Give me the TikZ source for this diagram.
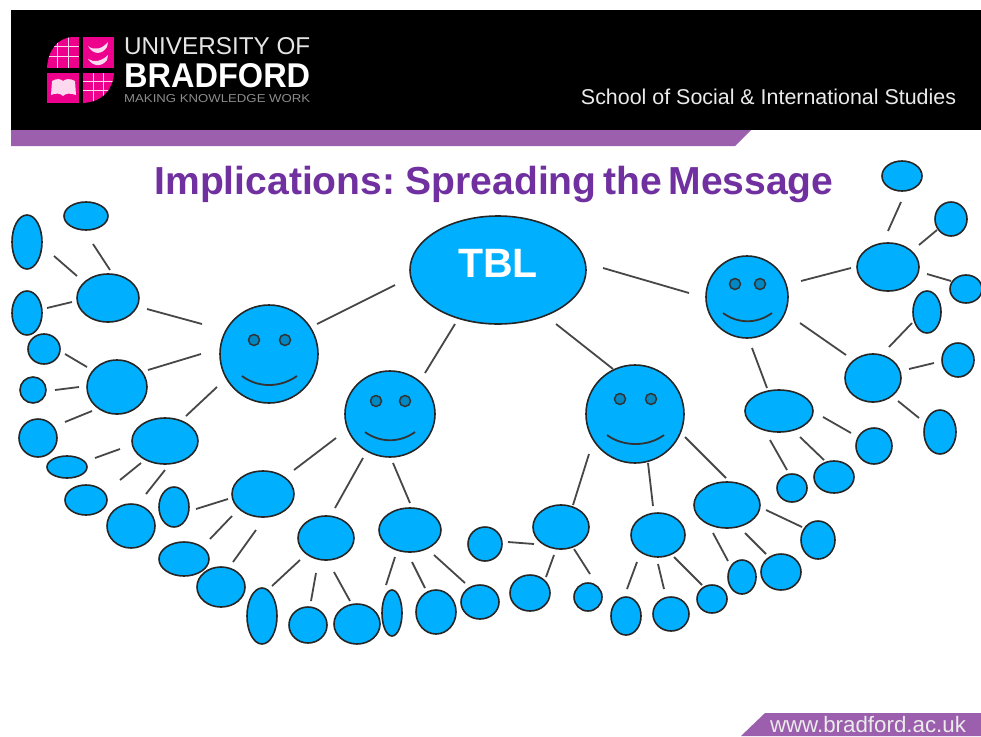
\documentclass[tikz,border=0pt]{standalone}
\usepackage{graphicx}
\usepackage{fontspec}
\setmainfont{Liberation Sans}
\usetikzlibrary{shapes.geometric}
\definecolor{blobblue}{HTML}{00B0FF}
\definecolor{eyeblue}{HTML}{0088C4}
\definecolor{barpurple}{HTML}{9B5FAE}
\definecolor{titlepurple}{HTML}{7030A0}
\definecolor{logopink}{HTML}{EC008C}
\tikzset{
  blob/.style={ellipse,draw=black!85,line width=1.6pt,fill=blobblue,inner sep=0pt},
  link/.style={draw=black!72,line width=1.8pt},
  faceline/.style={draw=black!80,line width=1.8pt},
  eye/.style={circle,draw=black!80,line width=1.5pt,fill=eyeblue,inner sep=0pt,minimum size=11pt},
  grid/.style={draw=white!85!logopink,line width=.5pt}
}
\newcommand\nd[5]{%
  \expandafter\def\csname cx#1\endcsname{#2}%
  \expandafter\def\csname cy#1\endcsname{#3}%
  \node[blob,minimum width={#4*2pt},minimum height={#5*2pt}] (#1) at (#2,#3) {};}
\newcommand\lk[6]{%
  \draw[link] ([shift={(#3-\csname cx#1\endcsname,#4-\csname cy#1\endcsname)}]#1.center)
    -- ([shift={(#5-\csname cx#2\endcsname,#6-\csname cy#2\endcsname)}]#2.center);}
\begin{document}
\begin{tikzpicture}[x=1pt,y=-1pt]
\useasboundingbox (0,0) rectangle (981,736);
\fill[white] (0,0) rectangle (981,736);
% header
\fill[black] (11,10) rectangle (981,130);
\fill[barpurple] (11,130) -- (751,130) -- (735,146) -- (11,146) -- cycle;
\fill[barpurple] (765,713) -- (981,713) -- (981,736) -- (741,736) -- cycle;
% logo
\begin{scope}
\clip (79,37) -- (72,37) .. controls (58,38) and (48,50) .. (47,68) -- (79,68) -- cycle;
\fill[logopink] (47,37) rectangle (79,68);
\foreach \v in {46,56} \draw[grid] (47,\v) -- (79,\v);
\foreach \v in {57,68} \draw[grid] (\v,37) -- (\v,68);
\end{scope}
\fill[logopink] (83,37) rectangle (114,68);
\fill[white!85!logopink] (88,46) .. controls (94,51) and (102,49) .. (108,42) -- (107,47) .. controls (102,55) and (93,55) .. (88,46) -- cycle;
\fill[white!85!logopink] (88,59) .. controls (94,63) and (102,61) .. (108,55) -- (107,60) .. controls (102,67) and (93,67) .. (88,59) -- cycle;
\fill[logopink] (47,73) rectangle (79,103);
\fill[white!85!logopink] (52,81) .. controls (57,78) and (61,79) .. (63,81) .. controls (65,79) and (70,78) .. (75,81) -- (76,95) .. controls (70,93) and (66,93) .. (63,96) .. controls (60,93) and (56,93) .. (51,95) -- cycle;
\begin{scope}
\clip (83,73) -- (114,73) .. controls (113,90) and (102,102) .. (83,103) -- cycle;
\fill[logopink] (83,73) rectangle (114,103);
\foreach \v in {81,90} \draw[grid] (83,\v) -- (114,\v);
\foreach \v in {93,103} \draw[grid] (\v,73) -- (\v,103);
\end{scope}
\node[inner sep=0pt,text=white!90!black,anchor=west] (logoa) at (124,46) {\resizebox{186pt}{17pt}{UNIVERSITY OF}};
\node[inner sep=0pt,text=white,anchor=west] (logob) at (124,75.5) {\resizebox{186pt}{24pt}{\bfseries BRADFORD}};
\node[inner sep=0pt,text=black!45,anchor=west] (logoc) at (124,99) {\resizebox{186pt}{8pt}{MAKING KNOWLEDGE WORK}};
\node[inner sep=0pt,text=white!92!black] (school) at (768.5,97) {\resizebox{375pt}{!}{School of Social \& International Studies}};
\node[inner sep=0pt,text=white!92!black] (web) at (868,724.5) {\resizebox{196pt}{!}{www.bradford.ac.uk}};
\node[inner sep=0pt,text=titlepurple] (title) at (494,184) {\resizebox{679pt}{!}{\bfseries\spaceskip=.17em Implications: Spreading the Message}};
% main nodes
\nd{TBL}{498}{270}{88}{54}
\node[text=white,inner sep=0pt] (tbltext) at (498,263) {\fontsize{41}{41}\selectfont\bfseries TBL};
\nd{Fa}{269}{354}{49}{49}
\nd{Fb}{390}{414}{45}{43}
\nd{Fc}{635}{414}{49}{49}
\nd{Fd}{747}{297}{41}{41}
\node[eye] (ea1) at (254,340) {}; \node[eye] (ea2) at (285,340) {};
\node[eye] (eb1) at (376,401) {}; \node[eye] (eb2) at (405,401) {};
\node[eye] (ec1) at (620,399) {}; \node[eye] (ec2) at (651,399) {};
\node[eye] (ed1) at (735,284) {}; \node[eye] (ed2) at (760,284) {};
\draw[faceline] (242,376) .. controls (258,388) and (280,388) .. (297,376);
\draw[faceline] (365,432) .. controls (380,443) and (400,443) .. (415,432);
\draw[faceline] (607,435) .. controls (623,447) and (648,447) .. (664,435);
\draw[faceline] (723,313) .. controls (738,324) and (757,324) .. (772,313);
% second level
\nd{a1}{108}{298}{31}{24} \nd{a2}{117}{387}{30}{27} \nd{a3}{165}{441}{33}{23}
\nd{b1}{263}{494}{31}{23} \nd{b2}{326}{538}{28}{22} \nd{b3}{410}{530}{31}{22}
\nd{c1}{561}{527}{28}{22} \nd{c2}{658}{535}{27}{22} \nd{c3}{727}{505}{33}{23}
\nd{d1}{779}{411}{34}{21} \nd{d2}{888}{267}{31}{24} \nd{d3}{873}{378}{28}{24}
% leaves
\nd{a1x}{27}{242}{15}{27} \nd{a1y}{86}{216}{22}{14} \nd{a1z}{27}{313}{15}{22}
\nd{a2x}{44}{349}{16}{15} \nd{a2y}{33}{390}{13}{13} \nd{a2z}{38}{438}{19}{19}
\nd{a3x}{67}{467}{20}{11} \nd{a3y}{86}{500}{21}{15} \nd{a3z}{131}{526}{24}{22}
\nd{b1x}{174}{507}{15}{20} \nd{b1y}{184}{559}{25}{17} \nd{b1z}{221}{587}{24}{20}
\nd{b2x}{262}{616}{15}{28} \nd{b2y}{308}{625}{19}{18} \nd{b2z}{357}{624}{23}{20}
\nd{b3x}{392}{613}{10}{23} \nd{b3y}{436}{612}{20}{22} \nd{b3z}{480}{602}{19}{17}
\nd{c1x}{485}{544}{17}{17} \nd{c1y}{530}{593}{20}{18} \nd{c1z}{588}{597}{14}{14}
\nd{c2x}{626}{616}{15}{19} \nd{c2y}{671}{614}{18}{17} \nd{c2z}{712}{599}{15}{14}
\nd{c3x}{742}{577}{14}{17} \nd{c3y}{781}{572}{20}{18} \nd{c3z}{818}{540}{17}{19}
\nd{d1x}{792}{488}{15}{14} \nd{d1y}{834}{477}{20}{16} \nd{d1z}{874}{446}{18}{18}
\nd{d2x}{902}{176}{20}{15} \nd{d2y}{951}{219}{16}{17} \nd{d2z}{966}{289}{16}{14}
\nd{d3x}{927}{312}{14}{21} \nd{d3y}{958}{360}{16}{17} \nd{d3z}{940}{432}{16}{22}
% connectors
\lk{TBL}{Fa}{395}{285}{317}{324}
\lk{TBL}{Fb}{455}{324}{425}{373}
\lk{TBL}{Fc}{556}{324}{613}{369}
\lk{TBL}{Fd}{603}{268}{689}{293}
\lk{Fa}{a1}{202}{324}{147}{309}
\lk{Fa}{a2}{201}{354}{148}{370}
\lk{Fa}{a3}{217}{387}{186}{416}
\lk{Fb}{b1}{336}{438}{294}{470}
\lk{Fb}{b2}{363}{458}{335}{508}
\lk{Fb}{b3}{393}{463}{410}{503}
\lk{Fc}{c1}{589}{454}{573}{505}
\lk{Fc}{c2}{648}{463}{653}{506}
\lk{Fc}{c3}{685}{437}{726}{478}
\lk{Fd}{d2}{801}{281}{851}{268}
\lk{Fd}{d3}{800}{323}{846}{355}
\lk{Fd}{d1}{752}{348}{767}{388}
\lk{a1x}{a1}{54}{256}{77}{276}
\lk{a1y}{a1}{93}{244}{110}{270}
\lk{a1z}{a1}{47}{308}{72}{302}
\lk{a2x}{a2}{65}{354}{87}{367}
\lk{a2y}{a2}{55}{390}{79}{387}
\lk{a2z}{a2}{65}{422}{92}{411}
\lk{a3x}{a3}{95}{458}{120}{449}
\lk{a3y}{a3}{120}{480}{141}{463}
\lk{a3z}{a3}{146}{494}{165}{470}
\lk{b1x}{b1}{196}{509}{228}{499}
\lk{b1y}{b1}{210}{539}{232}{516}
\lk{b1z}{b1}{233}{562}{256}{530}
\lk{b2x}{b2}{272}{586}{300}{560}
\lk{b2y}{b2}{311}{601}{316}{573}
\lk{b2z}{b2}{350}{601}{334}{572}
\lk{b3x}{b3}{386}{585}{395}{557}
\lk{b3y}{b3}{425}{588}{412}{562}
\lk{b3z}{b3}{465}{583}{434}{555}
\lk{c1x}{c1}{508}{542}{534}{544}
\lk{c1y}{c1}{546}{577}{554}{555}
\lk{c1z}{c1}{590}{574}{574}{549}
\lk{c2x}{c2}{627}{589}{637}{562}
\lk{c2y}{c2}{664}{589}{658}{564}
\lk{c2z}{c2}{702}{585}{674}{557}
\lk{c3x}{c3}{728}{561}{713}{533}
\lk{c3y}{c3}{766}{554}{745}{533}
\lk{c3z}{c3}{802}{527}{766}{510}
\lk{d1x}{d1}{787}{470}{770}{440}
\lk{d1y}{d1}{824}{460}{800}{437}
\lk{d1z}{d1}{851}{433}{823}{417}
\lk{d2x}{d2}{888}{231}{901}{202}
\lk{d2y}{d2}{919}{245}{937}{230}
\lk{d2z}{d2}{951}{281}{927}{274}
\lk{d3x}{d3}{889}{347}{912}{323}
\lk{d3y}{d3}{909}{369}{934}{363}
\lk{d3z}{d3}{919}{418}{898}{401}
\end{tikzpicture}
\end{document}
